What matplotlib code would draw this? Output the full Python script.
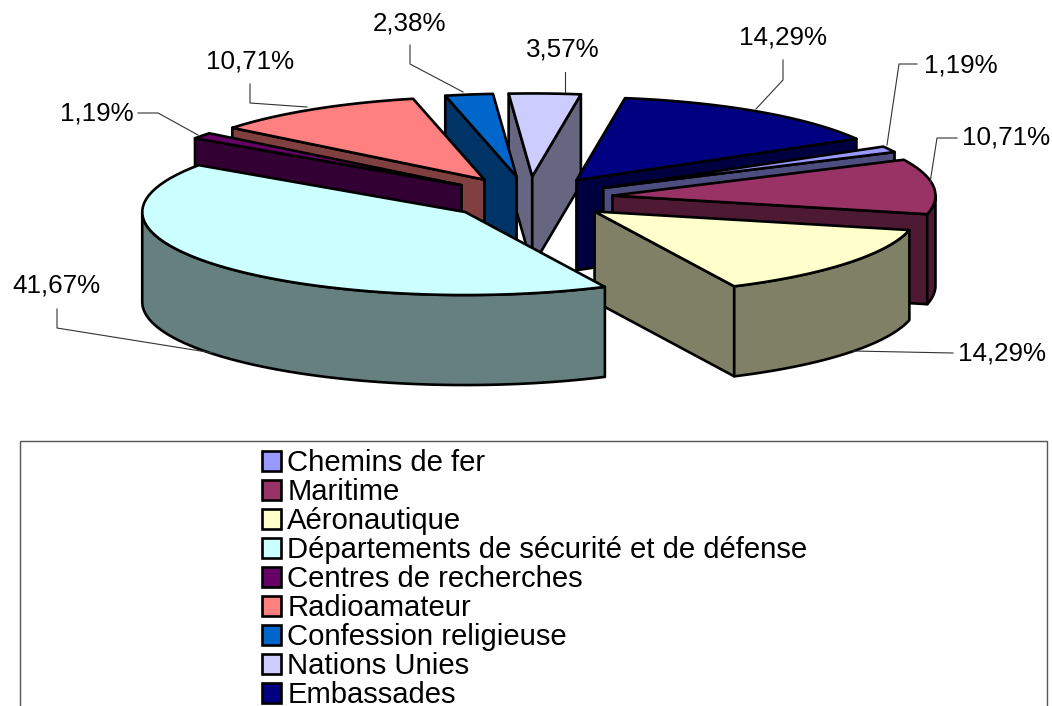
import numpy as np
import matplotlib
matplotlib.use("Agg")
from matplotlib import pyplot as plt
from matplotlib.patches import Polygon, Rectangle, Patch

categories = ["Chemins de fer", "Maritime", "Aéronautique",
              "Départements de sécurité et de défense", "Centres de recherches",
              "Radioamateur", "Confession religieuse", "Nations Unies", "Embassades"]
values = [1.19, 10.71, 14.29, 41.67, 1.19, 10.71, 2.38, 3.57, 14.29]
top_colors = ["#9999FF", "#993366", "#FFFFCC", "#CCFFFF", "#660066",
              "#FF8080", "#0066CC", "#CCCCFF", "#000080"]
side_colors = ["#4D4D80", "#4D1933", "#808066", "#668080", "#330033",
               "#804040", "#003366", "#666680", "#000040"]

# label centre, then the leader line, in the order of values
label_pos = [(961, 65), (1006, 138), (1002, 353), (56, 285), (97, 114),
             (250, 61), (409, 23), (563, 49), (783, 37)]
leaders = [[(917, 64), (899, 64), (887, 145)],
           [(957, 138), (937, 138), (930, 183)],
           [(953, 353), (853, 351)],
           [(57, 309), (57, 328), (213, 353)],
           [(138, 113), (158, 113), (198, 135)],
           [(250, 84), (250, 103), (307, 107)],
           [(410, 45), (410, 64), (463, 92)],
           [(565, 72), (565, 92)],
           [(783, 60), (783, 80), (756, 109)]]

cx, cy = 529, 198
rx, ry = 323, 83
depth = 90
explode = 0.26
start = 330.1

plt.rcParams['font.family'] = ['Liberation Sans', 'DejaVu Sans']
fig = plt.figure(figsize=(10.52, 7.06), dpi=100)
ax = fig.add_axes([0, 0, 1, 1])
ax.set_xlim(0, 1052)
ax.set_ylim(706, 0)
ax.axis("off")


def rim(ax_, ay_, a):
    a = np.radians(a)
    return np.column_stack([ax_ + rx * np.cos(a), ay_ + ry * np.sin(a)])


def down(pts):
    return pts + np.array([0, depth])


def face(pts, color):
    ax.add_patch(Polygon(pts, closed=True, fc=color, ec="black", lw=1.9, joinstyle="round"))


fracs = np.array(values) / sum(values) * 360
a0 = start + np.concatenate([[0], np.cumsum(fracs)[:-1]])
a1 = a0 + fracs
mids = (a0 + a1) / 2

# back to front
for i in np.argsort(np.sin(np.radians(mids))):
    m = np.radians(mids[i])
    px = cx + explode * rx * np.cos(m)
    py = cy + explode * ry * np.sin(m)
    apex = np.array([[px, py]])
    # flat walls that face the viewer
    if np.cos(np.radians(a0[i])) < 0:
        e = np.vstack([apex, rim(px, py, np.array([a0[i]]))])
        face(np.vstack([e, down(e)[::-1]]), side_colors[i])
    if np.cos(np.radians(a1[i])) > 0:
        e = np.vstack([apex, rim(px, py, np.array([a1[i]]))])
        face(np.vstack([e, down(e)[::-1]]), side_colors[i])
    # curved wall, only the front half
    for k in range(2):
        lo = max(a0[i], 360 * k)
        hi = min(a1[i], 360 * k + 180)
        if hi > lo:
            e = rim(px, py, np.linspace(lo, hi, 60))
            face(np.vstack([e, down(e)[::-1]]), side_colors[i])
    top = rim(px, py, np.linspace(a0[i], a1[i], 60))
    face(np.vstack([apex, top]), top_colors[i])

for v, pos, line in zip(values, label_pos, leaders):
    xs, ys = zip(*line)
    ax.plot(xs, ys, color="#333333", lw=0.8)
    ax.text(pos[0], pos[1], f"{v:.2f}".replace(".", ",") + "%", fontsize=18.7,
            ha="center", va="center", color="black")

ax.add_patch(Rectangle((20, 441), 1027, 300, fc="white", ec="#555555", lw=1))
handles = [Patch(fc=c, ec="black", lw=1.9) for c in top_colors]
ax.legend(handles, categories, loc="upper left", bbox_to_anchor=(262, 449),
          bbox_transform=ax.transData, frameon=False, fontsize=21.1,
          borderpad=0, borderaxespad=0, labelspacing=0.035,
          handlelength=0.66, handleheight=0.66, handletextpad=0.2)

fig.savefig("out.png", dpi=100)
